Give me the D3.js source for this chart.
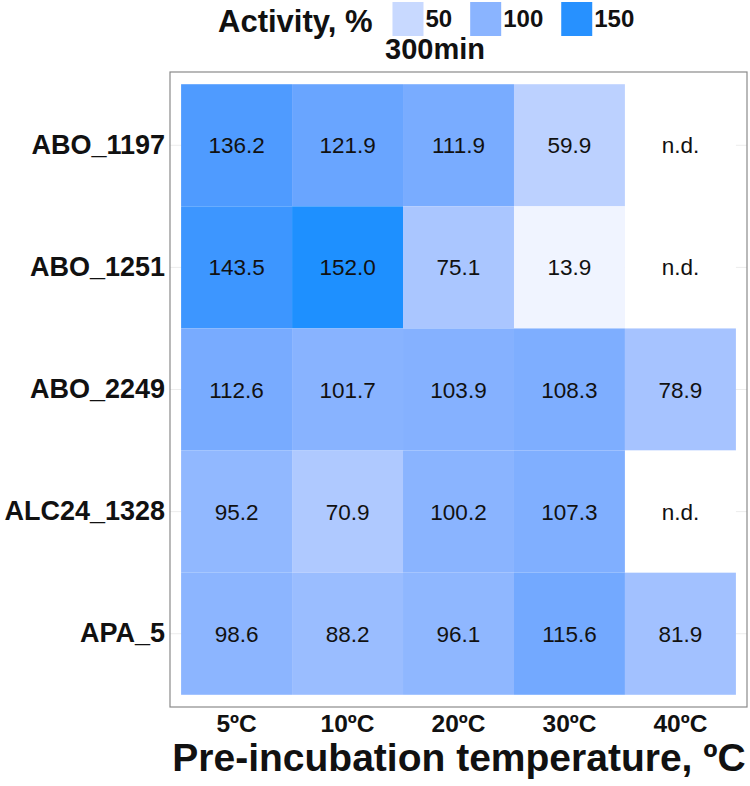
<!DOCTYPE html>
<html>
<head>
<meta charset="utf-8">
<script src="https://cdn.jsdelivr.net/npm/d3@7"></script>
<style>
  body { margin: 0; background: #fff; }
  text { font-family: "Liberation Sans", Arial, sans-serif; }
</style>
</head>
<body>
<div id="chart"></div>
<script>
// data
const temps = ["5ºC", "10ºC", "20ºC", "30ºC", "40ºC"]
const enzymes = ["ABO_1197", "ABO_1251", "ABO_2249", "ALC24_1328", "APA_5"]
const abo1197 = [136.2, 121.9, 111.9, 59.9, null]
const abo1251 = [143.5, 152.0, 75.1, 13.9, null]
const abo2249 = [112.6, 101.7, 103.9, 108.3, 78.9]
const alc241328 = [95.2, 70.9, 100.2, 107.3, null]
const apa5 = [98.6, 88.2, 96.1, 115.6, 81.9]
const legendBreaks = [50, 100, 150]

const rows = [abo1197, abo1251, abo2249, alc241328, apa5]
const cells = []
rows.forEach((vals, i) => vals.forEach((v, j) => cells.push({ enzyme: enzymes[i], temp: temps[j], value: v })))

const width = 750
const height = 786
const panel = { left: 170, right: 747, top: 72, bottom: 707 }

const svg = d3.select("#chart").append("svg")
  .attr("width", width)
  .attr("height", height)

const xScale = d3.scaleBand()
  .domain(temps)
  .range([panel.left, panel.right])
  .paddingInner(0)
  .paddingOuter(0.1)

const yScale = d3.scaleBand()
  .domain(enzymes)
  .range([panel.top, panel.bottom])
  .paddingInner(0)
  .paddingOuter(0.1)

const colorScale = d3.scaleLinear()
  .domain([0, 152])
  .range(["#ffffff", "#1E90FF"])
  .interpolate(d3.interpolateLab)

// horizontal grid lines (only visible in the panel margins)
svg.append("g").selectAll("line").data(enzymes).join("line")
  .attr("x1", panel.left).attr("x2", panel.right)
  .attr("y1", d => yScale(d) + yScale.bandwidth() / 2)
  .attr("y2", d => yScale(d) + yScale.bandwidth() / 2)
  .attr("stroke", "#ececec").attr("stroke-width", 1)

// tiles, n.d. drawn as white tiles
svg.append("g").selectAll("rect")
  .data(cells)
  .join("rect")
    .attr("x", d => xScale(d.temp))
    .attr("y", d => yScale(d.enzyme))
    .attr("width", xScale.bandwidth())
    .attr("height", yScale.bandwidth())
    .attr("fill", d => d.value == null ? "#ffffff" : colorScale(d.value))

// cell labels
svg.append("g").selectAll("text")
  .data(cells)
  .join("text")
    .attr("x", d => xScale(d.temp) + xScale.bandwidth() / 2)
    .attr("y", d => yScale(d.enzyme) + yScale.bandwidth() / 2)
    .attr("dy", "0.36em")
    .attr("text-anchor", "middle")
    .style("font-size", "22.5px")
    .attr("fill", "#111")
    .text(d => d.value == null ? "n.d." : d.value.toFixed(1))

// panel border
svg.append("rect")
  .attr("x", panel.left).attr("y", panel.top)
  .attr("width", panel.right - panel.left)
  .attr("height", panel.bottom - panel.top)
  .attr("fill", "none")
  .attr("stroke", "#8a8a8a")
  .attr("stroke-width", 1.2)

// axes
const xAxis = svg.append("g")
  .attr("transform", `translate(0,${panel.bottom})`)
  .call(d3.axisBottom(xScale).tickSize(0).tickPadding(8))
xAxis.select(".domain").remove()
xAxis.selectAll("text")
  .style("font-size", "24.5px")
  .style("font-weight", "bold")
  .attr("fill", "#111")

const yAxis = svg.append("g")
  .attr("transform", `translate(${panel.left},0)`)
  .call(d3.axisLeft(yScale).tickSize(0).tickPadding(5))
yAxis.select(".domain").remove()
yAxis.selectAll("text")
  .style("font-size", "27px")
  .style("font-weight", "bold")
  .attr("fill", "#111")

svg.append("text")
  .attr("x", 459)
  .attr("y", 771)
  .attr("text-anchor", "middle")
  .style("font-size", "39px")
  .style("font-weight", "bold")
  .attr("fill", "#111")
  .text("Pre-incubation temperature, ºC")

// legend
const legend = svg.append("g")
const legendTitle = legend.append("text")
  .attr("x", 218)
  .attr("y", 32)
  .style("font-size", "31px")
  .style("font-weight", "bold")
  .attr("fill", "#111")
  .text("Activity, %")

let cursor = 218 + legendTitle.node().getComputedTextLength() + 20
legendBreaks.forEach(b => {
  legend.append("rect")
    .attr("x", cursor).attr("y", 2)
    .attr("width", 31).attr("height", 34)
    .attr("fill", colorScale(b))
  const lab = legend.append("text")
    .attr("x", cursor + 33)
    .attr("y", 27)
    .style("font-size", "24px")
    .style("font-weight", "bold")
    .attr("fill", "#111")
    .text(b)
  cursor += 33 + lab.node().getComputedTextLength() + 18
})

svg.append("text")
  .attr("x", 435)
  .attr("y", 59)
  .attr("text-anchor", "middle")
  .style("font-size", "29px")
  .style("font-weight", "bold")
  .attr("fill", "#111")
  .text("300min")
</script>
</body>
</html>
